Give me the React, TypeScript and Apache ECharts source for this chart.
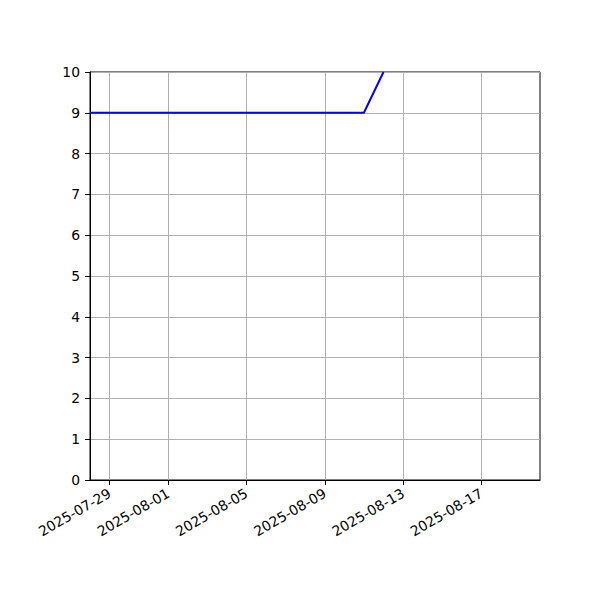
import { useEffect, useRef } from 'react'
import * as echarts from 'echarts'

// daily readings
const dates = [
  '2025-07-28', '2025-07-29', '2025-07-30', '2025-07-31', '2025-08-01',
  '2025-08-02', '2025-08-03', '2025-08-04', '2025-08-05', '2025-08-06',
  '2025-08-07', '2025-08-08', '2025-08-09', '2025-08-10', '2025-08-11',
  '2025-08-12',
]
const values = [9, 9, 9, 9, 9, 9, 9, 9, 9, 9, 9, 9, 9, 9, 9, 10]

const tickDates = [
  '2025-07-29', '2025-08-01', '2025-08-05', '2025-08-09', '2025-08-13', '2025-08-17',
]
const xMin = '2025-07-28'
const xMax = '2025-08-20'

const ts = (d: string) => Date.parse(d + 'T00:00:00Z')

const fmt = (v: number) => new Date(v).toISOString().slice(0, 10)

function App() {
  const chartRef = useRef<HTMLDivElement | null>(null)

  useEffect(() => {
    if (!chartRef.current) {
      return undefined
    }

    const chart = echarts.init(chartRef.current, undefined, { renderer: 'svg' })
    const font = { fontFamily: 'DejaVu Sans', fontSize: 13.9, color: '#000' }
    const option: echarts.EChartsOption = {
      animation: false,
      grid: {
        left: 90,
        right: 60,
        top: 72,
        bottom: 120,
        show: true,
        borderColor: '#000',
        borderWidth: 1,
        backgroundColor: 'transparent',
      },
      xAxis: {
        type: 'value',
        min: ts(xMin),
        max: ts(xMax),
        axisLine: { show: true, lineStyle: { color: '#000', width: 1 } },
        axisTick: {
          show: true,
          length: 5,
          lineStyle: { color: '#000' },
          customValues: tickDates.map(ts),
        },
        axisLabel: {
          ...font,
          rotate: 30,
          margin: 12,
          customValues: tickDates.map(ts),
          formatter: (v: number) => fmt(v),
        },
        splitLine: { show: true, lineStyle: { color: '#b0b0b0', width: 1 } },
      },
      yAxis: {
        type: 'value',
        min: 0,
        max: 10,
        interval: 1,
        axisLine: { show: true, lineStyle: { color: '#000', width: 1 } },
        axisTick: { show: true, length: 5, lineStyle: { color: '#000' } },
        axisLabel: { ...font, margin: 10 },
        splitLine: { show: true, lineStyle: { color: '#b0b0b0', width: 1 } },
      },
      series: [
        {
          type: 'line',
          data: dates.map((d, i) => [ts(d), values[i]]),
          showSymbol: false,
          clip: true,
          lineStyle: { color: '#0000ff', width: 2 },
          itemStyle: { color: '#0000ff' },
        },
      ],
    }

    chart.setOption(option)

    return () => {
      chart.dispose()
    }
  }, [])

  return <div ref={chartRef} style={{ height: 600, width: 600, margin: -8 }} />
}

export default App
